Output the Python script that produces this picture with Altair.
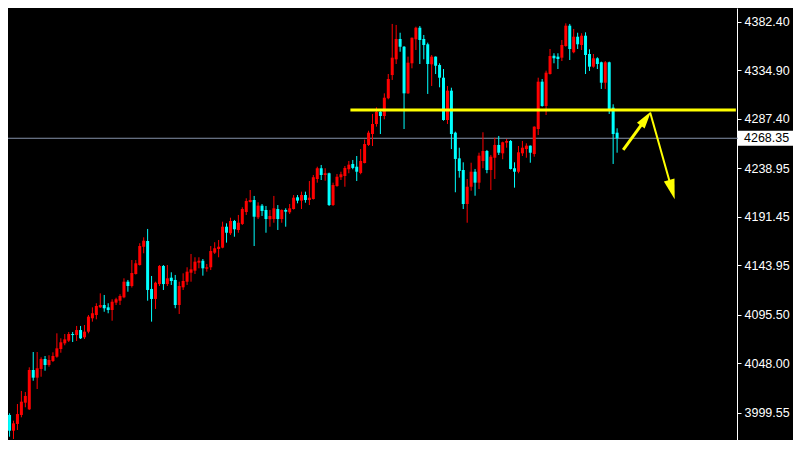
import altair as alt
import pandas as pd

# ---- OHLC values (one candle per bar index) ----
opens = [3987.8, 3997.6, 3982.2, 3988.8, 3997.6, 4009.6, 4003.1, 4041.6, 4034.1, 4042.6,
         4052.4, 4046.5, 4050.4, 4054.6, 4062.1, 4067.7, 4070.3, 4076.8, 4075.8, 4080.7,
         4073.6, 4079.1, 4092.2, 4095.4, 4102.9, 4105.2, 4102.9, 4100.3, 4107.5, 4109.4,
         4112.7, 4128.0, 4123.8, 4135.5, 4144.3, 4162.2, 4167.8, 4120.9, 4111.1, 4125.7,
         4143.4, 4125.7, 4131.9, 4129.7, 4105.2, 4122.5, 4128.0, 4136.8, 4138.8, 4146.6,
         4148.5, 4140.7, 4142.1, 4156.4, 4160.0, 4161.3, 4181.8, 4175.4, 4187.4, 4178.6,
         4184.5, 4196.2, 4206.0, 4207.9, 4191.0, 4202.4, 4198.2, 4189.1, 4189.3, 4199.1,
         4189.3, 4198.2, 4195.9, 4199.1, 4210.6, 4207.3, 4212.8, 4207.9, 4208.9, 4228.5,
         4239.0, 4232.4, 4234.1, 4203.0, 4221.6, 4230.2, 4231.4, 4238.0, 4243.2, 4240.5,
         4234.4, 4244.1, 4261.8, 4272.5, 4282.3, 4294.3, 4290.1, 4307.5, 4330.2, 4345.6,
         4365.5, 4357.9, 4312.3, 4341.7, 4365.2, 4376.5, 4365.5, 4360.3, 4340.7, 4348.2,
         4340.0, 4327.6, 4286.2, 4314.9, 4273.8, 4248.7, 4237.3, 4204.0, 4220.9, 4235.6,
         4224.9, 4246.1, 4255.9, 4237.3, 4249.3, 4261.8, 4253.6, 4264.0, 4265.7, 4239.0,
         4235.6, 4253.6, 4257.8, 4261.1, 4252.9, 4277.4, 4323.7, 4299.9, 4331.2, 4349.1,
         4348.2, 4347.2, 4358.6, 4378.5, 4352.5, 4367.7, 4359.6, 4368.7, 4350.8, 4338.4,
         4346.6, 4342.7, 4322.7, 4342.7, 4298.3, 4273.8]
highs = [4024.0, 3999.2, 3992.0, 4008.3, 4021.1, 4020.1, 4044.2, 4059.2, 4059.2, 4054.0,
         4055.3, 4056.0, 4058.9, 4077.5, 4072.6, 4076.8, 4078.8, 4078.8, 4084.7, 4084.7,
         4085.6, 4095.4, 4102.9, 4106.9, 4116.6, 4115.0, 4106.9, 4110.8, 4112.3, 4115.7,
         4131.3, 4129.7, 4149.2, 4149.2, 4165.6, 4171.4, 4179.6, 4133.6, 4128.0, 4144.3,
         4144.3, 4144.3, 4137.2, 4134.6, 4128.0, 4136.2, 4142.1, 4155.1, 4151.9, 4151.9,
         4150.2, 4145.3, 4162.9, 4166.6, 4168.8, 4186.7, 4185.1, 4190.6, 4188.4, 4193.3,
         4200.8, 4209.6, 4217.7, 4211.9, 4205.7, 4204.0, 4202.1, 4198.2, 4211.9, 4203.0,
         4198.8, 4199.8, 4204.0, 4212.8, 4212.8, 4216.1, 4216.1, 4226.5, 4232.4, 4240.5,
         4242.2, 4239.0, 4234.7, 4224.9, 4233.4, 4235.6, 4241.2, 4246.1, 4247.1, 4251.0,
         4257.8, 4267.1, 4275.7, 4292.1, 4298.6, 4296.0, 4312.3, 4331.2, 4380.2, 4379.2,
         4371.6, 4358.6, 4348.2, 4366.9, 4377.5, 4378.2, 4369.4, 4361.9, 4349.8, 4348.4,
         4341.7, 4336.1, 4319.5, 4317.8, 4274.8, 4259.1, 4244.8, 4228.5, 4244.4, 4238.3,
         4254.2, 4274.2, 4256.9, 4252.0, 4268.9, 4270.6, 4265.0, 4267.6, 4266.6, 4244.8,
         4260.8, 4265.7, 4263.4, 4261.3, 4280.0, 4327.6, 4326.3, 4334.5, 4355.7, 4351.5,
         4351.5, 4364.5, 4380.8, 4380.2, 4375.3, 4371.6, 4371.1, 4372.0, 4355.4, 4350.8,
         4347.6, 4343.3, 4343.9, 4343.3, 4301.6, 4278.1]
lows = [3984.8, 3976.3, 3974.1, 3982.9, 3995.3, 4005.1, 4002.5, 4031.1, 4023.0, 4035.0,
        4040.9, 4044.8, 4049.4, 4053.6, 4058.5, 4065.8, 4069.0, 4069.0, 4070.0, 4071.9,
        4071.9, 4077.5, 4088.9, 4091.2, 4102.3, 4098.6, 4097.1, 4089.8, 4105.2, 4105.2,
        4111.8, 4118.2, 4122.3, 4135.0, 4143.8, 4155.8, 4109.4, 4088.9, 4101.3, 4123.8,
        4119.9, 4123.8, 4124.8, 4102.0, 4096.4, 4119.9, 4124.8, 4128.0, 4135.5, 4141.1,
        4133.9, 4137.8, 4139.4, 4155.1, 4151.9, 4160.7, 4166.2, 4173.7, 4172.0, 4175.9,
        4183.5, 4193.3, 4205.5, 4162.9, 4189.3, 4192.3, 4175.9, 4181.8, 4185.7, 4178.6,
        4185.7, 4181.8, 4194.2, 4198.6, 4204.7, 4199.1, 4205.3, 4203.0, 4208.4, 4224.9,
        4227.5, 4226.8, 4202.1, 4202.1, 4220.9, 4227.5, 4220.9, 4234.1, 4238.0, 4226.5,
        4233.1, 4243.8, 4260.8, 4260.8, 4279.7, 4272.5, 4286.9, 4306.5, 4325.4, 4341.0,
        4353.0, 4277.4, 4311.7, 4336.8, 4354.7, 4341.0, 4345.6, 4311.7, 4319.5, 4331.2,
        4318.2, 4285.5, 4282.3, 4257.8, 4215.5, 4229.8, 4199.1, 4185.7, 4217.0, 4212.1,
        4218.7, 4239.0, 4234.1, 4217.7, 4228.5, 4252.0, 4247.8, 4259.1, 4237.8, 4220.0,
        4234.1, 4251.0, 4249.3, 4244.4, 4250.3, 4271.5, 4299.2, 4291.1, 4330.7, 4341.7,
        4336.1, 4343.9, 4357.9, 4344.9, 4351.5, 4355.7, 4354.7, 4331.2, 4334.2, 4337.4,
        4336.1, 4316.6, 4316.6, 4292.1, 4243.2, 4254.2]
closes = [4022.0, 3982.2, 3989.4, 3998.5, 4010.6, 4016.2, 4041.6, 4034.1, 4043.3, 4052.4,
          4046.5, 4051.4, 4055.3, 4062.8, 4068.7, 4071.6, 4076.8, 4075.8, 4080.7, 4072.6,
          4079.1, 4093.8, 4097.1, 4104.2, 4105.2, 4102.0, 4100.3, 4108.4, 4110.8, 4114.0,
          4128.0, 4123.8, 4136.5, 4146.0, 4162.9, 4168.1, 4119.9, 4111.1, 4127.0, 4143.4,
          4125.7, 4131.3, 4128.7, 4105.2, 4123.8, 4128.7, 4137.8, 4140.1, 4147.6, 4148.5,
          4141.1, 4142.1, 4158.0, 4160.7, 4162.2, 4181.8, 4175.9, 4187.4, 4179.3, 4185.7,
          4199.1, 4207.0, 4207.9, 4191.6, 4202.4, 4197.2, 4189.3, 4192.3, 4199.8, 4189.3,
          4198.2, 4196.5, 4199.8, 4210.2, 4207.3, 4212.8, 4207.9, 4210.2, 4230.2, 4239.0,
          4232.4, 4234.1, 4203.0, 4222.6, 4230.7, 4233.1, 4239.3, 4242.5, 4239.3, 4235.6,
          4246.1, 4262.7, 4273.8, 4282.3, 4294.3, 4290.1, 4308.0, 4326.3, 4347.2, 4365.5,
          4357.9, 4312.3, 4342.3, 4366.7, 4376.5, 4364.5, 4359.6, 4341.0, 4348.2, 4339.3,
          4327.6, 4286.2, 4314.9, 4272.5, 4248.1, 4236.3, 4204.0, 4220.9, 4235.6, 4224.9,
          4251.3, 4255.9, 4237.3, 4250.3, 4261.8, 4254.2, 4264.4, 4265.7, 4238.3, 4235.6,
          4254.6, 4259.1, 4261.1, 4254.2, 4279.7, 4323.7, 4299.9, 4332.5, 4348.8, 4346.6,
          4345.9, 4359.6, 4378.5, 4355.7, 4367.7, 4360.3, 4368.7, 4349.8, 4338.4, 4346.6,
          4341.0, 4322.7, 4342.7, 4296.7, 4272.5, 4268.35]

axis_values = [4382.40, 4334.90, 4287.40, 4238.95, 4191.45, 4143.95, 4095.50, 4048.00, 3999.55]
last_price = 4268.35

# yellow horizontal level (bar index range, price)
level_bars = [87.4, 185.1]
level_price = [4296.0]

# yellow arrows: start point and arrow-head point (bar index, price)
arrow_up_x = [156.55, 162.3]
arrow_up_y = [4256.9, 4287.6]
arrow_down_x = [163.4, 168.9]
arrow_down_y = [4293.4, 4218.0]

# ---------------------------------------------------------------------
bars = pd.DataFrame({"i": list(range(len(opens))), "open": opens, "high": highs,
                     "low": lows, "close": closes})

xs = alt.Scale(domain=[1.875, 184.125], nice=False, zero=False)
ys = alt.Scale(domain=[3973.1, 4395.8], nice=False, zero=False)
yaxis = alt.Axis(orient="right", values=axis_values, format=".2f", grid=False, title=None,
                 labelColor="#ffffff", labelFont="Liberation Sans", labelFontSize=12.5,
                 labelPadding=3, labelOverlap=False, labelFlush=False, labelBound=False,
                 tickColor="#ffffff", tickSize=4, tickWidth=1,
                 domainColor="#ffffff", domainWidth=1)

candle_color = alt.condition("datum.close >= datum.open", alt.value("#ff0000"), alt.value("#00ffff"))

base = alt.Chart(bars)
wicks = base.mark_rule(strokeWidth=1, clip=True).encode(
    x=alt.X("i:Q", scale=xs, axis=None),
    y=alt.Y("low:Q", scale=ys, axis=yaxis),
    y2="high:Q",
    color=candle_color,
)
bodies = base.mark_bar(size=3, clip=True).encode(
    x=alt.X("i:Q", scale=xs, axis=None),
    y=alt.Y("open:Q", scale=ys, axis=yaxis),
    y2="close:Q",
    color=candle_color,
)

price_df = pd.DataFrame({"p": [last_price], "t": [f"{last_price:.2f}"]})
price_line = alt.Chart(price_df).mark_rule(color="#8593aa", strokeWidth=1).encode(
    y=alt.Y("p:Q", scale=ys, axis=yaxis), x=alt.value(0), x2=alt.value(730))

level_df = pd.DataFrame({"a": [level_bars[0]], "b": [level_bars[1]], "p": level_price})
level = alt.Chart(level_df).mark_rule(color="#ffff00", strokeWidth=3).encode(
    x=alt.X("a:Q", scale=xs, axis=None), x2="b:Q", y=alt.Y("p:Q", scale=ys, axis=yaxis))

def arrow(xv, yv, width, head_size, angle):
    df = pd.DataFrame({"x": [xv[0]], "y": [yv[0]], "x2": [xv[1]], "y2": [yv[1]]})
    shaft = alt.Chart(df).mark_rule(color="#ffff00", strokeWidth=width).encode(
        x=alt.X("x:Q", scale=xs, axis=None), x2="x2:Q",
        y=alt.Y("y:Q", scale=ys, axis=yaxis), y2="y2:Q")
    head = alt.Chart(df).mark_point(shape="M0,-1L0.55,1L-0.55,1Z", filled=True, opacity=1,
                                    color="#ffff00", size=head_size, angle=angle).encode(
        x=alt.X("x2:Q", scale=xs, axis=None), y=alt.Y("y2:Q", scale=ys, axis=yaxis))
    return shaft + head

arrow_up = arrow(arrow_up_x, arrow_up_y, 3, 300, 36)
arrow_down = arrow(arrow_down_x, arrow_down_y, 2, 400, 164)

price_box = alt.Chart(price_df).mark_point(
    shape="M-1,-0.26L1,-0.26L1,0.26L-1,0.26Z", filled=True, opacity=1, color="#ffffff",
    size=3249).encode(x=alt.value(758.5), y=alt.Y("p:Q", scale=ys, axis=yaxis))
price_text = alt.Chart(price_df).mark_text(
    align="left", baseline="middle", color="#000000", font="Liberation Sans", fontSize=12.5
).encode(x=alt.value(736), y=alt.Y("p:Q", scale=ys, axis=yaxis), text="t:N")

chart = alt.layer(
    price_line, wicks, bodies, level, arrow_up, arrow_down, price_box, price_text
).properties(
    width=729, height=432, background="#000000",
    padding={"left": 0, "top": 0, "right": 56, "bottom": 0},
    autosize=alt.AutoSizeParams(type="none"),
).configure_view(strokeWidth=0)

chart.save("out.html", embed_options={"renderer": "svg", "actions": False})
